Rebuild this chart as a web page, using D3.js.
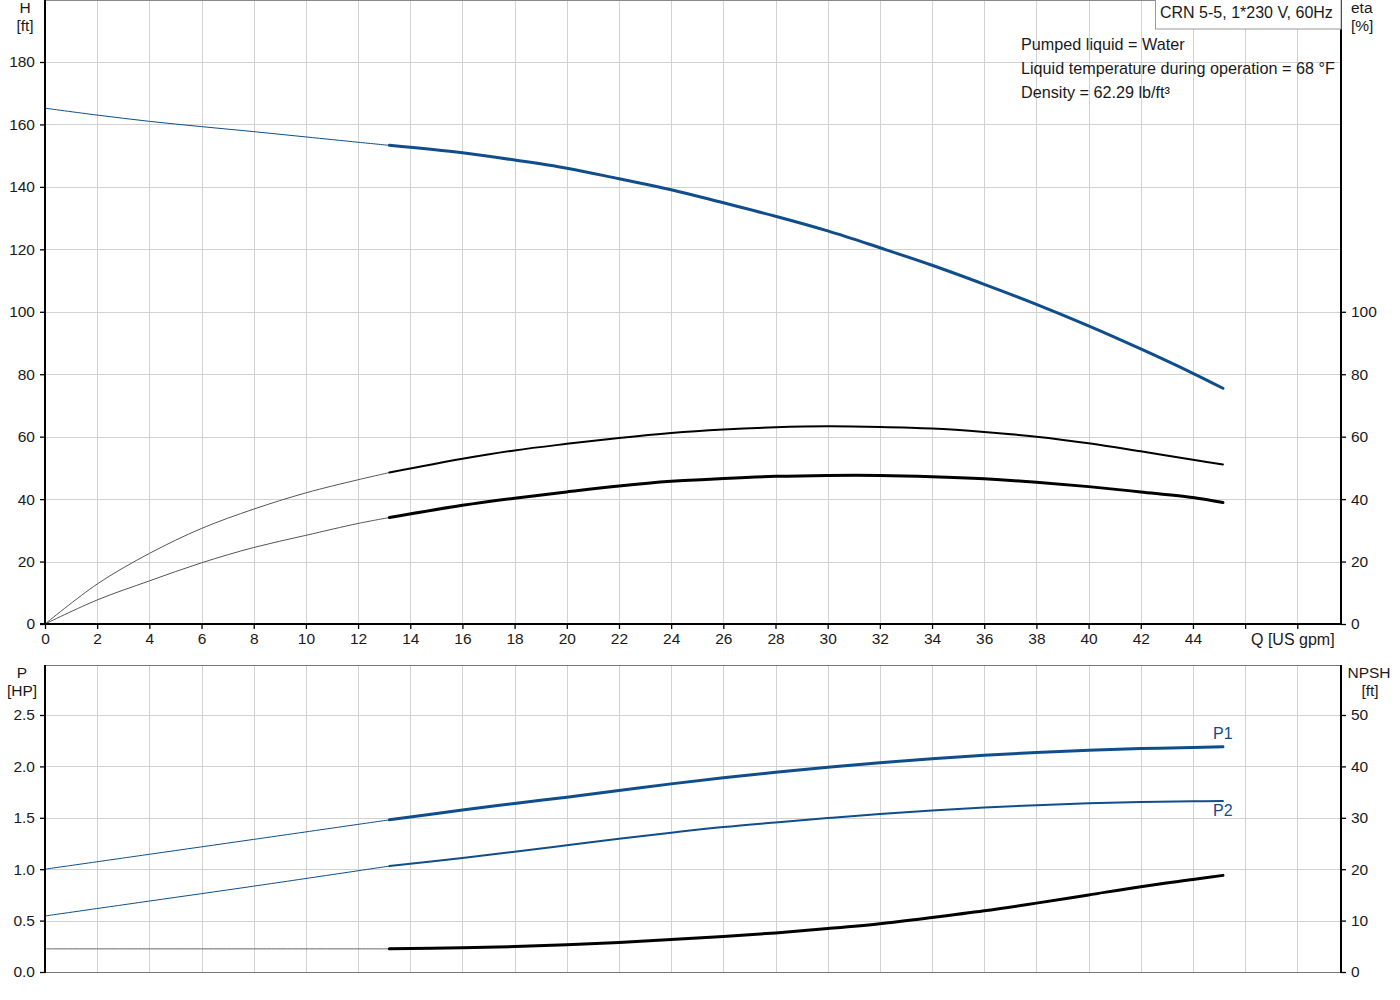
<!DOCTYPE html>
<html>
<head>
<meta charset="utf-8">
<script src="https://cdn.jsdelivr.net/npm/d3@7/dist/d3.min.js"></script>
<style>
  html, body { margin: 0; padding: 0; background: #fff; }
  svg { display: block; font-family: "Liberation Sans", Arial, sans-serif; }
  .tick text { font-size: 15.5px; fill: #1a1a1a; }
</style>
</head>
<body>
<svg id="chart" width="1400" height="1000"></svg>
<script>
// ---------- data ----------
const Q_THIN = [0, 2, 4, 6, 8, 10, 12, 13.2];
const Q_MAIN = [13.2, 16, 18, 20, 22, 24, 26, 28, 30, 32, 34, 36, 38, 40, 42, 44, 45.15];

const H_THIN = [165.2, 163.0, 161.0, 159.3, 157.7, 156.0, 154.3, 153.3];
const H_MAIN = [153.3, 150.9, 148.6, 146.0, 142.6, 139.1, 134.9, 130.6, 125.9, 120.5, 114.9, 108.8, 102.4, 95.5, 88.1, 80.3, 75.5];

const ETA_A_THIN = [0, 12.8, 22.6, 30.6, 36.8, 42.0, 46.2, 48.5];
const ETA_A_MAIN = [48.5, 52.9, 55.6, 57.7, 59.6, 61.2, 62.3, 63.0, 63.3, 63.1, 62.6, 61.5, 60.0, 57.9, 55.3, 52.6, 51.1];
const ETA_B_THIN = [0, 7.7, 13.8, 19.6, 24.5, 28.4, 32.2, 34.1];
const ETA_B_MAIN = [34.1, 38.0, 40.3, 42.3, 44.2, 45.7, 46.6, 47.3, 47.6, 47.6, 47.2, 46.5, 45.4, 44.0, 42.3, 40.5, 38.9];

const Q_P_THIN = [0, 4, 8, 13.2];
const P1_THIN = [1.0, 1.145, 1.29, 1.48];
const P1_MAIN = [1.48, 1.575, 1.64, 1.70, 1.765, 1.83, 1.89, 1.943, 1.991, 2.036, 2.075, 2.108, 2.135, 2.157, 2.173, 2.185, 2.19];
const P2_THIN = [0.545, 0.69, 0.835, 1.03];
const P2_MAIN = [1.03, 1.11, 1.17, 1.233, 1.297, 1.355, 1.41, 1.455, 1.497, 1.537, 1.572, 1.600, 1.623, 1.641, 1.654, 1.661, 1.663];
const NPSH_THIN = [4.5, 4.5, 4.5, 4.5];
const NPSH_MAIN = [4.5, 4.7, 4.95, 5.3, 5.75, 6.3, 6.9, 7.6, 8.45, 9.4, 10.6, 11.9, 13.4, 15.0, 16.6, 18.0, 18.8];

const Q_TICKS = d3.range(0, 49, 2);
const Q_LABELED = d3.range(0, 45, 2);
const H_TICKS = d3.range(0, 181, 20);
const ETA_TICKS = d3.range(0, 101, 20);
const P_TICKS = [0, 0.5, 1.0, 1.5, 2.0, 2.5];
const NPSH_TICKS = [0, 10, 20, 30, 40, 50];

const TITLE = "CRN 5-5, 1*230 V, 60Hz";
const INFO = ["Pumped liquid = Water", "Liquid temperature during operation = 68 °F", "Density = 62.29 lb/ft³"];

// ---------- layout ----------
const L = 45, R = 1341;
const T1 = 0.5, B1 = 624;
const T2 = 665, B2 = 972;
const BLUE = "#0f4e8a";
const GRID = "#d2d2d2";

const svg = d3.select("#chart");
const x = d3.scaleLinear().domain([0, 49.675]).range([L, R]);
const yH = d3.scaleLinear().domain([0, 180]).range([B1, 62]);
const yEta = d3.scaleLinear().domain([0, 100]).range([B1, B1 - 100 * (B1 - 62) / 180]);
const yP = d3.scaleLinear().domain([0, 2.5]).range([B2, 715]);
const yN = d3.scaleLinear().domain([0, 50]).range([B2, 715]);

// ---------- grids ----------
const g = svg.append("g");
function vgrid(top, bottom) {
  g.selectAll(null).data(Q_TICKS.filter(d => d > 0)).enter().append("line")
    .attr("x1", d => Math.round(x(d)) + 0.5).attr("x2", d => Math.round(x(d)) + 0.5)
    .attr("y1", top).attr("y2", bottom).attr("stroke", GRID).attr("stroke-width", 1);
}
vgrid(T1, B1); vgrid(T2, B2);
g.selectAll(null).data(H_TICKS.filter(d => d > 0)).enter().append("line")
  .attr("x1", L).attr("x2", R).attr("y1", d => Math.round(yH(d)) + 0.5).attr("y2", d => Math.round(yH(d)) + 0.5)
  .attr("stroke", GRID);
g.selectAll(null).data(P_TICKS.filter(d => d > 0)).enter().append("line")
  .attr("x1", L).attr("x2", R).attr("y1", d => Math.round(yP(d)) + 0.5).attr("y2", d => Math.round(yP(d)) + 0.5)
  .attr("stroke", GRID);

// frame borders (gray)
svg.append("line").attr("x1", L).attr("x2", R).attr("y1", T1).attr("y2", T1).attr("stroke", "#8a8a8a");
svg.append("line").attr("x1", L).attr("x2", R).attr("y1", T2 + 0.5).attr("y2", T2 + 0.5).attr("stroke", "#777");
svg.append("line").attr("x1", L).attr("x2", R).attr("y1", B2 + 0.5).attr("y2", B2 + 0.5).attr("stroke", "#777");

// ---------- curves ----------
const curves = svg.append("g").attr("fill", "none").attr("stroke-linecap", "round");
function draw(scaleY, qs, vs, color, width) {
  const pts = qs.map((q, i) => [x(q), scaleY(vs[i])]);
  curves.append("path")
    .attr("d", d3.line().curve(d3.curveCatmullRom.alpha(0.5))(pts))
    .attr("stroke", color).attr("stroke-width", width);
}
// top chart
draw(yH, Q_THIN, H_THIN, BLUE, 1);
draw(yH, Q_MAIN, H_MAIN, BLUE, 3);
draw(yEta, Q_THIN, ETA_A_THIN, "#555", 1);
draw(yEta, Q_MAIN, ETA_A_MAIN, "#000", 2);
draw(yEta, Q_THIN, ETA_B_THIN, "#555", 1);
draw(yEta, Q_MAIN, ETA_B_MAIN, "#000", 3);
// bottom chart
draw(yP, Q_P_THIN, P1_THIN, BLUE, 1);
draw(yP, Q_MAIN, P1_MAIN, BLUE, 3);
draw(yP, Q_P_THIN, P2_THIN, BLUE, 1);
draw(yP, Q_MAIN, P2_MAIN, BLUE, 2);
draw(yN, Q_P_THIN, NPSH_THIN, "#666", 1);
draw(yN, Q_MAIN, NPSH_MAIN, "#000", 3);

// ---------- axes ----------
function styleAxis(sel) {
  sel.selectAll(".domain").remove();
  sel.selectAll(".tick line").attr("stroke", "#000").attr("stroke-width", 1.3);
}
// x axis
const xa = svg.append("g").attr("transform", `translate(0,${B1})`)
  .call(d3.axisBottom(x).tickValues(Q_TICKS).tickSize(5).tickPadding(4)
    .tickFormat(d => Q_LABELED.includes(d) ? d3.format("d")(d) : ""));
styleAxis(xa);
xa.selectAll(".tick text").attr("dy", "0.71em");
svg.append("line").attr("x1", 40).attr("x2", R).attr("y1", B1).attr("y2", B1).attr("stroke", "#000").attr("stroke-width", 2);

// left H axis
const ya = svg.append("g").attr("transform", `translate(${L},0)`)
  .call(d3.axisLeft(yH).tickValues(H_TICKS).tickSize(5).tickPadding(5));
styleAxis(ya);
// right eta axis
const ea = svg.append("g").attr("transform", `translate(${R},0)`)
  .call(d3.axisRight(yEta).tickValues(ETA_TICKS).tickSize(5).tickPadding(5));
styleAxis(ea);
// left P axis
const pa = svg.append("g").attr("transform", `translate(${L},0)`)
  .call(d3.axisLeft(yP).tickValues(P_TICKS).tickSize(5).tickPadding(5).tickFormat(d3.format(".1f")));
styleAxis(pa);
// right NPSH axis
const na = svg.append("g").attr("transform", `translate(${R},0)`)
  .call(d3.axisRight(yN).tickValues(NPSH_TICKS).tickSize(5).tickPadding(5));
styleAxis(na);

// axis lines
[[L, T1 - 1, B1], [R, T1 - 1, B1], [L, T2, B2 + 1], [R, T2, B2 + 1]].forEach(([xx, a, b]) => {
  svg.append("line").attr("x1", xx).attr("x2", xx).attr("y1", a).attr("y2", b)
    .attr("stroke", "#000").attr("stroke-width", 2);
});

// ---------- axis titles ----------
const txt = (s, xx, yy, anchor, color) => svg.append("text").text(s).attr("x", xx).attr("y", yy)
  .attr("text-anchor", anchor || "start").attr("font-size", 15.5).attr("fill", color || "#1a1a1a");
txt("H", 25, 13, "middle");
txt("[ft]", 25, 31, "middle");
txt("eta", 1351, 13, "start");
txt("[%]", 1351, 31, "start");
txt("Q [US gpm]", 1251, 645, "start").attr("font-size", 16);
txt("P", 22, 678, "middle");
txt("[HP]", 22, 696, "middle");
txt("NPSH", 1369, 678, "middle");
txt("[ft]", 1370, 696, "middle");

// curve labels
txt("P1", 1213, 739, "start", BLUE).attr("font-size", 16);
txt("P2", 1213, 816, "start", BLUE).attr("font-size", 16);

// ---------- title box & info ----------
svg.append("rect").attr("x", 1155.5).attr("y", -1).attr("width", R - 1155.5).attr("height", 30)
  .attr("fill", "#fff").attr("stroke", "#9a9a9a");
txt(TITLE, 1160, 18, "start").attr("font-size", 16);
INFO.forEach((s, i) => txt(s, 1021, 50 + i * 24, "start").attr("font-size", 16.2));
</script>
</body>
</html>
